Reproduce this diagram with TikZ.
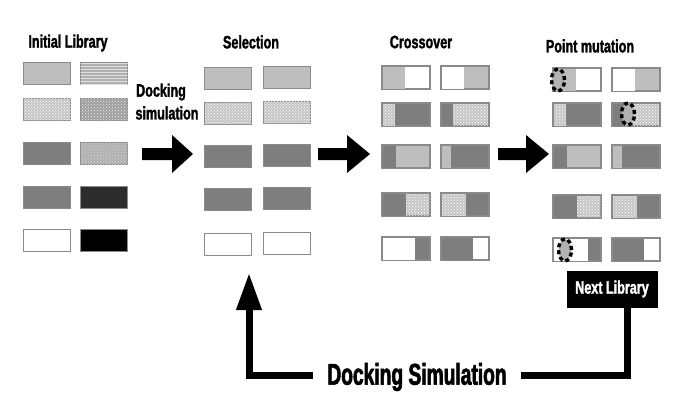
\documentclass[tikz,border=0pt]{standalone}
\usepackage{fontspec}
\usetikzlibrary{patterns,arrows.meta}
\newfontfamily\condfont[FakeStretch=0.7,FakeBold=1.6]{Liberation Sans Bold}
\newfontfamily\condfontB[FakeStretch=0.64,FakeBold=2]{Liberation Sans Bold}
\definecolor{lgray}{HTML}{BEBEBE}
\definecolor{mgray}{HTML}{7E7E7E}
\definecolor{bgray}{HTML}{8A8A8A}
\definecolor{dotbase}{HTML}{C6C6C6}
\definecolor{dkgray}{HTML}{2C2C2C}
\tikzset{
  box/.style={draw=bgray, line width=1.1pt, minimum width=47pt, minimum height=22pt, inner sep=0pt, anchor=north west},
  boxline/.style={draw=bgray, line width=1.1pt},
  LG/.style={fill=lgray},
  MG/.style={fill=mgray},
  WH/.style={fill=white},
  DK/.style={fill=dkgray},
  BK/.style={fill=black},
  DOT/.style={fill=dotbase, postaction={pattern=crosshatch dots, pattern color=white}},
  DDOT/.style={fill=gray!75, postaction={pattern=crosshatch dots, pattern color=white!85!gray}},
  MDOT/.style={fill=gray!62, postaction={pattern=crosshatch dots, pattern color=gray!30}},
  HL/.style={fill=gray!62, postaction={pattern=horizontal lines, pattern color=gray!25}},
  head/.style={font=\condfont\fontsize{18}{18}\selectfont, inner sep=0pt},
  bigarrow/.style={fill=black},
  mutline/.style={draw=black, fill=gray!60, line width=3.4pt, dash pattern=on 4pt off 3pt},
}
\newcommand\bx[4]{\node[box,#4] (#1) at (#2,#3) {};}
\newcommand\sbx[6]{%
  \node[box,#6] (#1) at (#2,#3) {};
  \path[#5] (#1.north west) rectangle ([xshift=#4pt]#1.south west);
  \draw[boxline] (#1.north west) rectangle (#1.south east);}
\newcommand\mutmark[3]{\draw[mutline] (#2,#3) ellipse [x radius=6.5pt, y radius=11pt];
  \coordinate (#1) at (#2,#3);}
\begin{document}
\begin{tikzpicture}[x=1pt,y=-1pt]
\useasboundingbox[fill=white] (0,0) rectangle (685,409);
% headers
\node[head] (hInit) at (68,43) {Initial Library};
\node[head] (hSel) at (251,42) {Selection};
\node[head] (hCross) at (421,42) {Crossover};
\node[head] (hMut) at (590,46) {Point mutation};
\node[head] (hDock1) at (161,92) {Docking};
\node[head] (hDock2) at (167,113) {simulation};
% initial library
\bx{i11}{23}{62}{LG} \bx{i12}{80}{62}{HL}
\bx{i21}{23}{98}{DOT} \bx{i22}{80}{98}{DDOT}
\bx{i31}{23}{142}{MG} \bx{i32}{80}{142}{MDOT}
\bx{i41}{23}{186}{MG} \bx{i42}{80}{186}{DK}
\bx{i51}{23}{229}{WH} \bx{i52}{80}{229}{BK}
% selection
\bx{s11}{204}{67}{LG} \bx{s12}{263}{66}{LG}
\bx{s21}{204}{102}{DOT} \bx{s22}{263}{101}{DOT}
\bx{s31}{204}{145}{MG} \bx{s32}{263}{144}{MG}
\bx{s41}{204}{188}{MG} \bx{s42}{263}{187}{MG}
\bx{s51}{204}{233}{WH} \bx{s52}{263}{232}{WH}
% crossover
\sbx{c11}{382}{66}{23}{LG}{WH} \sbx{c12}{441}{66}{23}{WH}{LG}
\sbx{c21}{382}{103}{13}{DOT}{MG} \sbx{c22}{441}{103}{12}{MG}{DOT}
\sbx{c31}{382}{145}{14}{MG}{LG} \sbx{c32}{441}{145}{10}{LG}{MG}
\sbx{c41}{382}{193}{24}{MG}{DOT} \sbx{c42}{441}{193}{25}{DOT}{MG}
\sbx{c51}{382}{237}{33}{WH}{MG} \sbx{c52}{441}{237}{32}{MG}{WH}
% point mutation
\sbx{p11}{553}{68}{23}{LG}{WH} \sbx{p12}{612}{68}{23}{WH}{LG}
\sbx{p21}{553}{103}{13}{DOT}{MG} \sbx{p22}{612}{103}{12}{MG}{DOT}
\sbx{p31}{553}{145}{14}{MG}{LG} \sbx{p32}{612}{145}{10}{LG}{MG}
\sbx{p41}{553}{195}{24}{MG}{DOT} \sbx{p42}{612}{195}{25}{DOT}{MG}
\sbx{p51}{553}{238}{35}{WH}{MG} \sbx{p52}{612}{238}{32}{MG}{WH}
\mutmark{mA}{558}{80}
\mutmark{mB}{628}{114}
\mutmark{mC}{565}{250}
% block arrows
\fill[bigarrow] (142,148) -- (172,148) -- (172,135) -- (193,154) -- (172,173) -- (172,160) -- (142,160) -- cycle;
\fill[bigarrow] (318,148) -- (347,148) -- (347,135) -- (370,154) -- (347,173) -- (347,160) -- (318,160) -- cycle;
\fill[bigarrow] (498,148) -- (526,148) -- (526,135) -- (549,154) -- (526,173) -- (526,160) -- (498,160) -- cycle;
% next library
\node[fill=black, text=white, font=\condfont\fontsize{18}{18}\selectfont, minimum width=91pt, minimum height=37pt, inner sep=0pt] (next) at (612,289) {Next Library};
\coordinate (back) at (249,273);
\draw[line width=7pt, line join=miter, -{Triangle[width=24pt,length=37pt]}] (next.south -| 627,0) |- (249,375) -- (back);
\node[fill=white, font=\condfontB\fontsize{30}{30}\selectfont, minimum width=208pt, minimum height=30pt, inner sep=0pt] (dock) at (417,377) {Docking Simulation};
\end{tikzpicture}
\end{document}
